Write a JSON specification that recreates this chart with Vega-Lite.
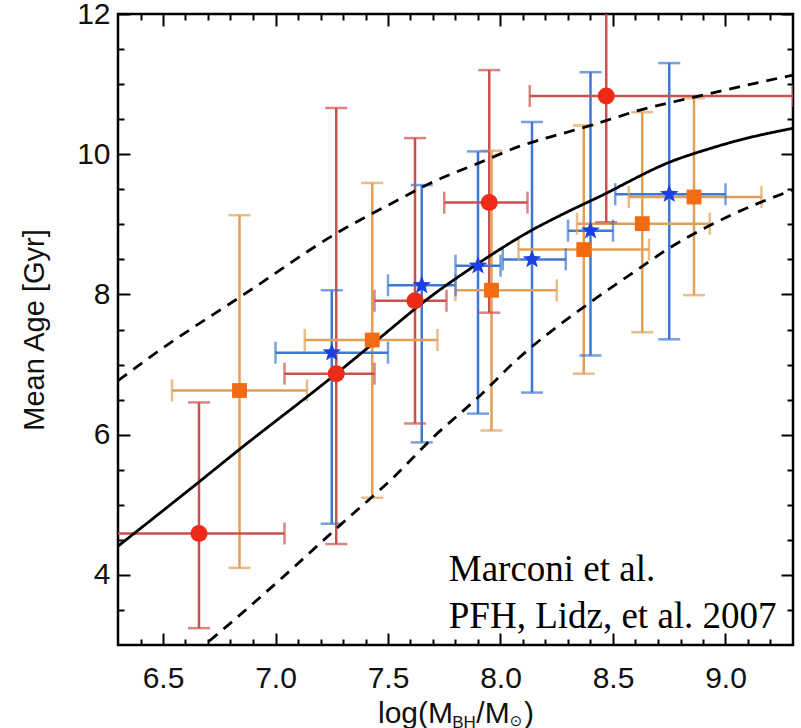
{
  "$schema": "https://vega.github.io/schema/vega-lite/v6.json",
  "width": 675,
  "height": 631,
  "autosize": {"type": "none"},
  "padding": {"left": 118, "top": 14, "right": 8, "bottom": 83},
  "background": "white",
  "config": {
    "view": {"stroke": "black", "strokeWidth": 2.5},
    "axis": {"domain": false, "ticks": false, "tickSize": 0, "labelColor": "#111", "titleColor": "#111", "labelFont": "Liberation Sans", "titleFont": "Liberation Sans", "labelFlush": false, "labelOverlap": false, "grid": true, "gridColor": "black", "gridWidth": 2, "gridOpacity": 1}
  },
  "datasets": {
    "obs": [
      {"series": "red", "x": 6.66, "y": 4.59, "xlo": 6.28, "xhi": 7.04, "ylo": 3.24, "yhi": 6.46},
      {"series": "red", "x": 7.27, "y": 6.87, "xlo": 7.04, "xhi": 7.44, "ylo": 4.44, "yhi": 10.66},
      {"series": "red", "x": 7.62, "y": 7.91, "xlo": 7.44, "xhi": 7.76, "ylo": 6.16, "yhi": 10.23},
      {"series": "red", "x": 7.95, "y": 9.31, "xlo": 7.75, "xhi": 8.12, "ylo": 7.74, "yhi": 11.2},
      {"series": "red", "x": 8.47, "y": 10.83, "xlo": 8.13, "xhi": 9.3, "ylo": 9.03, "yhi": 12.6},
      {"series": "orange", "x": 6.84, "y": 6.63, "xlo": 6.54, "xhi": 7.14, "ylo": 4.1, "yhi": 9.13},
      {"series": "orange", "x": 7.43, "y": 7.35, "xlo": 7.13, "xhi": 7.72, "ylo": 5.1, "yhi": 9.59},
      {"series": "orange", "x": 7.96, "y": 8.06, "xlo": 7.8, "xhi": 8.25, "ylo": 6.06, "yhi": 10.05},
      {"series": "orange", "x": 8.37, "y": 8.64, "xlo": 8.08, "xhi": 8.66, "ylo": 6.87, "yhi": 10.41},
      {"series": "orange", "x": 8.63, "y": 9.01, "xlo": 8.34, "xhi": 8.93, "ylo": 7.46, "yhi": 10.6},
      {"series": "orange", "x": 8.86, "y": 9.39, "xlo": 8.57, "xhi": 9.16, "ylo": 7.99, "yhi": 10.8},
      {"series": "blue", "x": 7.25, "y": 7.17, "xlo": 7.0, "xhi": 7.5, "ylo": 4.73, "yhi": 8.06},
      {"series": "blue", "x": 7.65, "y": 8.13, "xlo": 7.5, "xhi": 7.8, "ylo": 5.89, "yhi": 9.56},
      {"series": "blue", "x": 7.9, "y": 8.41, "xlo": 7.8, "xhi": 8.0, "ylo": 6.3, "yhi": 10.04},
      {"series": "blue", "x": 8.14, "y": 8.5, "xlo": 8.01, "xhi": 8.29, "ylo": 6.6, "yhi": 10.46},
      {"series": "blue", "x": 8.4, "y": 8.91, "xlo": 8.3, "xhi": 8.5, "ylo": 7.13, "yhi": 11.17},
      {"series": "blue", "x": 8.75, "y": 9.43, "xlo": 8.51, "xhi": 9.0, "ylo": 7.36, "yhi": 11.3}
    ],
    "curves": [
      {"curve": "fit", "x": 6.3, "y": 4.41},
      {"curve": "fit", "x": 6.65, "y": 5.3},
      {"curve": "fit", "x": 6.84, "y": 5.79},
      {"curve": "fit", "x": 7.27, "y": 6.87},
      {"curve": "fit", "x": 7.46, "y": 7.37},
      {"curve": "fit", "x": 7.69, "y": 7.97},
      {"curve": "fit", "x": 7.9, "y": 8.44},
      {"curve": "fit", "x": 8.13, "y": 8.9},
      {"curve": "fit", "x": 8.28, "y": 9.15},
      {"curve": "fit", "x": 8.43, "y": 9.38},
      {"curve": "fit", "x": 8.77, "y": 9.91},
      {"curve": "fit", "x": 8.92, "y": 10.07},
      {"curve": "fit", "x": 9.06, "y": 10.2},
      {"curve": "fit", "x": 9.3, "y": 10.37},
      {"curve": "upper", "x": 6.3, "y": 6.77},
      {"curve": "upper", "x": 6.47, "y": 7.17},
      {"curve": "upper", "x": 6.86, "y": 8.0},
      {"curve": "upper", "x": 7.27, "y": 8.87},
      {"curve": "upper", "x": 7.54, "y": 9.34},
      {"curve": "upper", "x": 7.69, "y": 9.59},
      {"curve": "upper", "x": 7.9, "y": 9.87},
      {"curve": "upper", "x": 8.1, "y": 10.13},
      {"curve": "upper", "x": 8.28, "y": 10.3},
      {"curve": "upper", "x": 8.4, "y": 10.41},
      {"curve": "upper", "x": 8.62, "y": 10.63},
      {"curve": "upper", "x": 8.84, "y": 10.8},
      {"curve": "upper", "x": 9.06, "y": 10.96},
      {"curve": "upper", "x": 9.3, "y": 11.13},
      {"curve": "lower", "x": 6.64, "y": 2.88},
      {"curve": "lower", "x": 6.81, "y": 3.34},
      {"curve": "lower", "x": 7.03, "y": 3.96},
      {"curve": "lower", "x": 7.27, "y": 4.66},
      {"curve": "lower", "x": 7.54, "y": 5.44},
      {"curve": "lower", "x": 7.7, "y": 5.96},
      {"curve": "lower", "x": 7.9, "y": 6.53},
      {"curve": "lower", "x": 8.07, "y": 7.06},
      {"curve": "lower", "x": 8.4, "y": 7.89},
      {"curve": "lower", "x": 8.58, "y": 8.29},
      {"curve": "lower", "x": 8.75, "y": 8.66},
      {"curve": "lower", "x": 9.03, "y": 9.14},
      {"curve": "lower", "x": 9.3, "y": 9.49}
    ],
    "notes": [
      {"label": "Marconi et al.", "x": 7.77, "y": 3.91},
      {"label": "PFH, Lidz, et al. 2007", "x": 7.77, "y": 3.24}
    ],
    "sub": [
      {"label": "BH", "x": 7.838, "y": 1.82}
    ],
    "sun": [
      {"label": "⊙", "x": 8.069, "y": 1.85}
    ]
  },
  "layer": [
    {
      "data": {"name": "obs"},
      "mark": {"type": "rule", "strokeWidth": 2.5, "clip": true},
      "encoding": {
        "x": {"field": "x", "type": "quantitative", "scale": {"domain": [6.3, 9.3], "nice": false, "zero": false},
          "axis": {"values": [6.4, 6.5, 6.6, 6.7, 6.8, 6.9, 7.0, 7.1, 7.2, 7.3, 7.4, 7.5, 7.6, 7.7, 7.8, 7.9, 8.0, 8.1, 8.2, 8.3, 8.4, 8.5, 8.6, 8.7, 8.8, 8.9, 9.0, 9.1, 9.2],
            "tickCount": 200,
            "labelOverlap": false,
            "labelExpr": "abs(datum.value*2 - round(datum.value*2)) < 0.01 ? format(datum.value, '.1f') : ''",
            "gridDash": {"condition": {"test": "abs(datum.value*2 - round(datum.value*2)) < 0.01", "value": [12, 607, 12, 0]}, "value": [6, 619, 6, 0]},
            "labelPadding": 18, "labelFontSize": 30, "title": "log(M\u2002 /M \u2009)", "titleFontSize": 30, "titleFontWeight": "normal", "titlePadding": 5}},
        "y": {"field": "ylo", "type": "quantitative", "scale": {"domain": [3, 12], "nice": false, "zero": false},
          "axis": {"values": [3.5, 4, 4.5, 5, 5.5, 6, 6.5, 7, 7.5, 8, 8.5, 9, 9.5, 10, 10.5, 11, 11.5, 12],
            "tickCount": 200,
            "labelOverlap": false,
            "labelExpr": "datum.value % 2 === 0 ? format(datum.value, 'd') : ''",
            "gridDash": {"condition": {"test": "datum.value % 2 === 0", "value": [12, 651, 12, 0]}, "value": [6, 663, 6, 0]},
            "labelPadding": 8, "labelFontSize": 30, "title": "Mean Age [Gyr]", "titleFontSize": 29, "titleFontWeight": "normal", "titlePadding": 27}},
        "y2": {"field": "yhi"},
        "color": {"field": "series", "type": "nominal", "legend": null, "scale": {"domain": ["red", "orange", "blue"], "range": ["#c9524c", "#e0a055", "#3f78d0"]}}
      }
    },
    {
      "data": {"name": "obs"},
      "mark": {"type": "rule", "strokeWidth": 2.5, "clip": true},
      "encoding": {
        "x": {"field": "xlo", "type": "quantitative"},
        "x2": {"field": "xhi"},
        "y": {"field": "y", "type": "quantitative"},
        "color": {"field": "series", "type": "nominal", "legend": null}
      }
    },
    {
      "data": {"name": "obs"},
      "mark": {"type": "tick", "orient": "horizontal", "size": 22, "thickness": 2.5, "clip": true},
      "encoding": {
        "x": {"field": "x", "type": "quantitative"},
        "y": {"field": "ylo", "type": "quantitative"},
        "color": {"field": "series", "type": "nominal", "legend": null}
      }
    },
    {
      "data": {"name": "obs"},
      "mark": {"type": "tick", "orient": "horizontal", "size": 22, "thickness": 2.5, "clip": true},
      "encoding": {
        "x": {"field": "x", "type": "quantitative"},
        "y": {"field": "yhi", "type": "quantitative"},
        "color": {"field": "series", "type": "nominal", "legend": null}
      }
    },
    {
      "data": {"name": "obs"},
      "mark": {"type": "tick", "orient": "vertical", "size": 22, "thickness": 2.5, "clip": true},
      "encoding": {
        "x": {"field": "xlo", "type": "quantitative"},
        "y": {"field": "y", "type": "quantitative"},
        "color": {"field": "series", "type": "nominal", "legend": null}
      }
    },
    {
      "data": {"name": "obs"},
      "mark": {"type": "tick", "orient": "vertical", "size": 22, "thickness": 2.5, "clip": true},
      "encoding": {
        "x": {"field": "xhi", "type": "quantitative"},
        "y": {"field": "y", "type": "quantitative"},
        "color": {"field": "series", "type": "nominal", "legend": null}
      }
    },
    {
      "data": {"name": "curves"},
      "mark": {"type": "line", "interpolate": "monotone", "color": "black", "strokeWidth": 2.8, "clip": true},
      "encoding": {
        "x": {"field": "x", "type": "quantitative"},
        "y": {"field": "y", "type": "quantitative"},
        "detail": {"field": "curve", "type": "nominal"},
        "strokeDash": {"field": "curve", "type": "nominal", "legend": null, "scale": {"domain": ["fit", "upper", "lower"], "range": [[1, 0], [11, 8], [11, 8]]}}
      }
    },
    {
      "data": {"name": "obs"},
      "transform": [{"filter": "datum.series === 'red'"}],
      "mark": {"type": "point", "shape": "circle", "filled": true, "opacity": 1, "strokeWidth": 0, "size": 290, "color": "#ee2a18", "clip": true},
      "encoding": {
        "x": {"field": "x", "type": "quantitative"},
        "y": {"field": "y", "type": "quantitative"}
      }
    },
    {
      "data": {"name": "obs"},
      "transform": [{"filter": "datum.series === 'orange'"}],
      "mark": {"type": "point", "shape": "square", "filled": true, "opacity": 1, "strokeWidth": 0, "size": 220, "color": "#f26a12", "clip": true},
      "encoding": {
        "x": {"field": "x", "type": "quantitative"},
        "y": {"field": "y", "type": "quantitative"}
      }
    },
    {
      "data": {"name": "obs"},
      "transform": [{"filter": "datum.series === 'blue'"}],
      "mark": {"type": "point", "shape": "M0,-1L0.247,-0.34L0.951,-0.309L0.399,0.13L0.588,0.809L0,0.42L-0.588,0.809L-0.399,0.13L-0.951,-0.309L-0.247,-0.34Z", "filled": true, "opacity": 1, "strokeWidth": 0, "size": 380, "color": "#1b3fe0", "clip": true},
      "encoding": {
        "x": {"field": "x", "type": "quantitative"},
        "y": {"field": "y", "type": "quantitative"}
      }
    },
    {
      "data": {"name": "notes"},
      "mark": {"type": "text", "font": "Liberation Serif", "fontSize": 37, "align": "left", "baseline": "alphabetic", "color": "black"},
      "encoding": {
        "x": {"field": "x", "type": "quantitative"},
        "y": {"field": "y", "type": "quantitative"},
        "text": {"field": "label", "type": "nominal"}
      }
    },
    {
      "data": {"name": "sub"},
      "mark": {"type": "text", "font": "Liberation Sans", "fontSize": 17, "align": "center", "baseline": "alphabetic", "color": "#111"},
      "encoding": {
        "x": {"field": "x", "type": "quantitative"},
        "y": {"field": "y", "type": "quantitative"},
        "text": {"field": "label", "type": "nominal"}
      }
    },
    {
      "data": {"name": "sun"},
      "mark": {"type": "text", "font": "DejaVu Sans", "fontSize": 15, "align": "center", "baseline": "alphabetic", "color": "#111"},
      "encoding": {
        "x": {"field": "x", "type": "quantitative"},
        "y": {"field": "y", "type": "quantitative"},
        "text": {"field": "label", "type": "nominal"}
      }
    }
  ]
}
